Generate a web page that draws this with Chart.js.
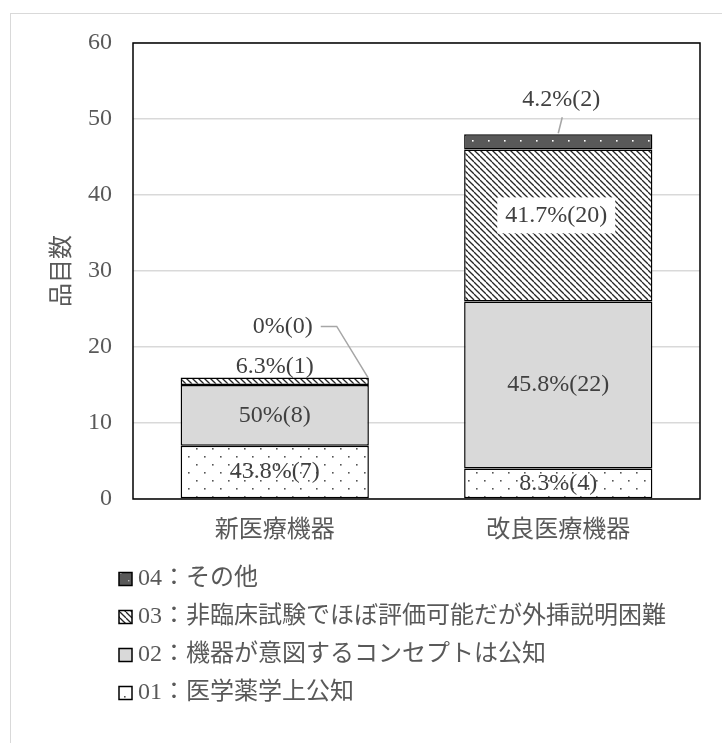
<!DOCTYPE html>
<html>
<head>
<meta charset="utf-8">
<script src="https://cdn.jsdelivr.net/npm/chart.js@4/dist/chart.umd.min.js"></script>
<style>
  html, body { margin: 0; padding: 0; background: #fff; }
</style>
</head>
<body>
<canvas id="itemChart" width="722" height="743"></canvas>
<script>
const categories = ['新医療機器', '改良医療機器']
const seriesNames = [
  '01：医学薬学上公知',
  '02：機器が意図するコンセプトは公知',
  '03：非臨床試験でほぼ評価可能だが外挿説明困難',
  '04：その他',
]
const known01 = [7, 4]
const concept02 = [8, 22]
const extrapolate03 = [1, 20]
const other04 = [0, 2]
const yTicks = [0, 10, 20, 30, 40, 50, 60]

const textColor = '#595959'
const labelColor = '#404040'
const fontFamily = '"Liberation Serif", "Noto Sans CJK JP", serif'

const canvas = document.getElementById('itemChart')
const ctx = canvas.getContext('2d')

// small repeating tiles for the hatched fills
function makePattern(w, h, draw) {
  const c = document.createElement('canvas')
  c.width = w
  c.height = h
  draw(c.getContext('2d'))
  return ctx.createPattern(c, 'repeat')
}

const dotFill = makePattern(16, 16, (g) => {
  g.fillStyle = '#fff'
  g.fillRect(0, 0, 16, 16)
  g.fillStyle = '#555'
  g.fillRect(12, 8, 1.6, 1.6)
  g.fillRect(4, 0, 1.6, 1.6)
})
const greyFill = '#d9d9d9'
const hatchFill = makePattern(6, 6, (g) => {
  g.fillStyle = '#fff'
  g.fillRect(0, 0, 6, 6)
  g.strokeStyle = '#262626'
  g.lineWidth = 1.3
  for (let k = -1; k <= 1; k++) {
    g.beginPath()
    g.moveTo(k * 6, 0)
    g.lineTo(k * 6 + 6, 6)
    g.stroke()
  }
})
const darkFill = makePattern(16, 16, (g) => {
  g.fillStyle = '#595959'
  g.fillRect(0, 0, 16, 16)
  g.fillStyle = '#fff'
  g.fillRect(8, 12, 1.6, 1.6)
  g.fillStyle = '#bbb'
  g.fillRect(0, 4, 1.4, 1.4)
})

const totals = categories.map((_, j) => known01[j] + concept02[j] + extrapolate03[j] + other04[j])

function pctLabel(v, total) {
  const p = Math.round((v / total) * 1000) / 10
  return p + '%(' + v + ')'
}

// how each segment's label is placed, per dataset then category
const labelPlacement = [
  ['center', 'center'],
  ['center', 'center'],
  ['above', 'boxed'],
  ['leaderSide', 'leaderTop'],
]

const backdrop = {
  id: 'backdrop',
  beforeDraw(chart) {
    const c = chart.ctx
    c.save()
    c.fillStyle = '#fff'
    c.fillRect(0, 0, chart.width, chart.height)
    c.strokeStyle = '#d9d9d9'
    c.lineWidth = 1
    c.strokeRect(10.5, 13.5, chart.width + 20, chart.height + 20)
    c.restore()
  },
}

const plotFrameAndLabels = {
  id: 'plotFrameAndLabels',
  afterDatasetsDraw(chart) {
    const c = chart.ctx
    const a = chart.chartArea
    c.save()
    c.strokeStyle = '#000'
    c.lineWidth = 1.5
    c.strokeRect(a.left, a.top, a.right - a.left, a.bottom - a.top)

    c.font = '24px ' + fontFamily
    c.textAlign = 'center'
    c.textBaseline = 'middle'
    chart.data.datasets.forEach((ds, i) => {
      chart.getDatasetMeta(i).data.forEach((bar, j) => {
        const text = pctLabel(ds.data[j], totals[j])
        const mid = (bar.y + bar.base) / 2
        const kind = labelPlacement[i][j]
        let lx = bar.x
        let ly = mid
        c.strokeStyle = '#a6a6a6'
        c.lineWidth = 1.5
        if (kind === 'above') {
          ly = bar.y - 11
        } else if (kind === 'boxed') {
          lx = bar.x - 2
          ly = mid - 10
          const w = c.measureText(text).width + 16
          c.fillStyle = '#fff'
          c.fillRect(lx - w / 2, ly - 18, w, 36)
        } else if (kind === 'leaderSide') {
          lx = bar.x + 8
          ly = bar.y - 51
          c.beginPath()
          c.moveTo(bar.x + 46, ly)
          c.lineTo(bar.x + 62, ly)
          c.lineTo(bar.x + bar.width / 2 - 1, bar.y)
          c.stroke()
        } else if (kind === 'leaderTop') {
          lx = bar.x + 3
          ly = bar.y - 34
          c.beginPath()
          c.moveTo(bar.x + 4, bar.y - 17)
          c.lineTo(bar.x, bar.y - 1)
          c.stroke()
        }
        c.fillStyle = labelColor
        c.fillText(text, lx, ly)
      })
    })
    c.restore()
  },
}

// vertical legend under the axis, last series first
const legendBox = { x: 119, y: 579, gap: 38, size: 13, textX: 138 }
const stackedLegend = {
  id: 'stackedLegend',
  afterDraw(chart) {
    const c = chart.ctx
    c.save()
    c.font = '24px ' + fontFamily
    c.textBaseline = 'middle'
    c.textAlign = 'left'
    const items = chart.data.datasets.slice().reverse()
    items.forEach((ds, k) => {
      const cy = legendBox.y + k * legendBox.gap
      const s = legendBox.size
      c.fillStyle = ds.backgroundColor
      c.fillRect(legendBox.x, cy - s / 2, s, s)
      c.strokeStyle = '#000'
      c.lineWidth = 1.5
      c.strokeRect(legendBox.x, cy - s / 2, s, s)
      c.fillStyle = textColor
      c.fillText(ds.label, legendBox.textX, cy)
    })
    c.restore()
  },
}

const seriesValues = [known01, concept02, extrapolate03, other04]
const seriesFills = [dotFill, greyFill, hatchFill, darkFill]

new Chart(canvas, {
  type: 'bar',
  data: {
    labels: categories,
    datasets: seriesValues.map((vals, i) => ({
      label: seriesNames[i],
      data: vals,
      backgroundColor: seriesFills[i],
      borderColor: '#000',
      borderWidth: 1.5,
      borderSkipped: false,
      barPercentage: 0.664,
      categoryPercentage: 1,
    })),
  },
  options: {
    responsive: false,
    animation: false,
    devicePixelRatio: 1,
    layout: { padding: { left: 0, top: 43, right: 22, bottom: 194 } },
    plugins: {
      legend: { display: false },
      tooltip: { enabled: false },
    },
    scales: {
      x: {
        stacked: true,
        grid: { display: false, drawTicks: false },
        border: { display: false },
        ticks: { color: textColor, font: { family: fontFamily, size: 24 }, padding: 17 },
        afterFit: (s) => { s.height = 50 },
      },
      y: {
        stacked: true,
        min: 0,
        max: 60,
        afterBuildTicks: (s) => { s.ticks = yTicks.map((v) => ({ value: v })) },
        grid: { color: '#d9d9d9', lineWidth: 1.5, drawTicks: false },
        border: { display: false },
        ticks: { color: textColor, font: { family: fontFamily, size: 24 }, padding: 21 },
        title: {
          display: true,
          text: '品目数',
          color: textColor,
          font: { family: fontFamily, size: 24 },
          padding: { top: 48, bottom: 0 },
        },
        afterFit: (s) => { s.width = 133 },
      },
    },
  },
  plugins: [backdrop, plotFrameAndLabels, stackedLegend],
})
</script>
</body>
</html>
